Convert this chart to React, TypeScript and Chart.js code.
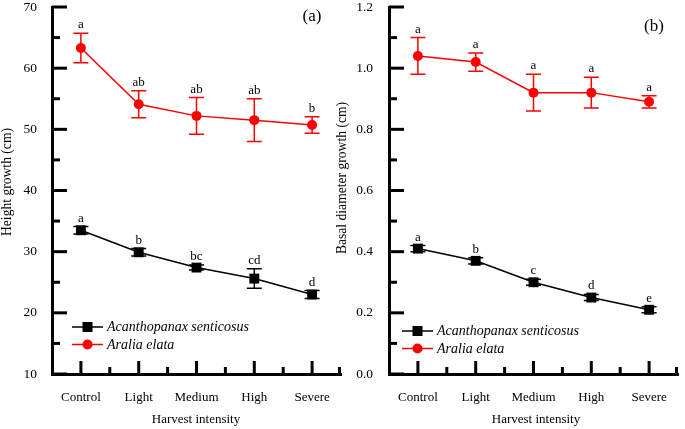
import React, { useEffect, useRef } from 'react';
import { Chart, registerables } from 'chart.js';

Chart.register(...registerables);

// ---------- data ----------
const categories = ['Control', 'Light', 'Medium', 'High', 'Severe'];
const seriesNames = ['Acanthopanax senticosus', 'Aralia elata'];

// Panel (a): height growth (cm)
const heightAcanthopanax = [33.5, 29.9, 27.4, 25.6, 23.0];
const heightAcanthopanaxErr = [0.6, 0.6, 0.4, 1.6, 0.65];
const heightAcanthopanaxLetters = ['a', 'b', 'bc', 'cd', 'd'];
const heightAralia = [63.3, 54.1, 52.2, 51.5, 50.7];
const heightAraliaErr = [2.4, 2.2, 3.0, 3.5, 1.35];
const heightAraliaLetters = ['a', 'ab', 'ab', 'ab', 'b'];
const heightTickValues = [10, 20, 30, 40, 50, 60, 70];
const heightTickLabels = ['10', '20', '30', '40', '50', '60', '70'];

// Panel (b): basal diameter growth (cm)
const diamAcanthopanax = [0.41, 0.37, 0.30, 0.25, 0.21];
const diamAcanthopanaxErr = [0.01, 0.01, 0.01, 0.01, 0.01];
const diamAcanthopanaxLetters = ['a', 'b', 'c', 'd', 'e'];
const diamAralia = [1.04, 1.02, 0.92, 0.92, 0.89];
const diamAraliaErr = [0.06, 0.03, 0.06, 0.05, 0.02];
const diamAraliaLetters = ['a', 'a', 'a', 'a', 'a'];
const diamTickValues = [0.0, 0.2, 0.4, 0.6, 0.8, 1.0, 1.2];
const diamTickLabels = ['0.0', '0.2', '0.4', '0.6', '0.8', '1.0', '1.2'];

const SERIF = "'Liberation Serif', 'Times New Roman', serif";
const BLACK = '#000000';
const RED = '#ff0000';

type PanelProps = {
  left: number;
  width: number;
  yAxisWidth: number;
  padRight: number;
  labelPad: number;
  tickValues: number[];
  tickLabels: string[];
  acan: number[];
  acanErr: number[];
  acanLetters: string[];
  aral: number[];
  aralErr: number[];
  aralLetters: string[];
  yTitle: string;
  yTitleX: number;
  yTitleY: number;
  xTitleX: number;
  tag: string;
  tagX: number;
  tagY: number;
  legendX: number;
  legendY: number;
};

function Panel(p: PanelProps) {
  const ref = useRef<HTMLCanvasElement | null>(null);

  useEffect(() => {
    if (!ref.current) return;
    const minV = p.tickValues[0];
    const maxV = p.tickValues[p.tickValues.length - 1];
    const step = p.tickValues[1] - p.tickValues[0];

    const decor = {
      id: 'decor',
      beforeDatasetsDraw(chart: any) {
        const ctx = chart.ctx;
        const ys = chart.scales.y;
        const errs = [p.acanErr, p.aralErr];
        const vals = [p.acan, p.aral];
        const cols = [BLACK, RED];
        ctx.save();
        for (let i = 0; i < 2; i++) {
          const meta = chart.getDatasetMeta(i);
          ctx.strokeStyle = cols[i];
          ctx.lineWidth = 1.5;
          meta.data.forEach((pt: any, j: number) => {
            const x = pt.x;
            const yt = ys.getPixelForValue(vals[i][j] + errs[i][j]);
            const yb = ys.getPixelForValue(vals[i][j] - errs[i][j]);
            ctx.beginPath();
            ctx.moveTo(x, yt);
            ctx.lineTo(x, yb);
            ctx.moveTo(x - 7.5, yt);
            ctx.lineTo(x + 7.5, yt);
            ctx.moveTo(x - 7.5, yb);
            ctx.lineTo(x + 7.5, yb);
            ctx.stroke();
          });
        }
        ctx.restore();
      },
      afterDatasetsDraw(chart: any) {
        const ctx = chart.ctx;
        const xs = chart.scales.x;
        const ys = chart.scales.y;
        const area = chart.chartArea;
        ctx.save();
        // y-axis inward ticks
        ctx.strokeStyle = BLACK;
        ctx.lineWidth = 3;
        ctx.lineCap = 'butt';
        const ax = area.left;
        for (let v = minV; v <= maxV + step * 1e-6; v += step) {
          const y = ys.getPixelForValue(v);
          ctx.beginPath();
          ctx.moveTo(ax, y);
          ctx.lineTo(ax + 15, y);
          ctx.stroke();
          if (v + step / 2 < maxV) {
            const ym = ys.getPixelForValue(v + step / 2);
            ctx.beginPath();
            ctx.moveTo(ax, ym);
            ctx.lineTo(ax + 8, ym);
            ctx.stroke();
          }
        }
        // x-axis inward ticks
        const by = area.bottom;
        for (let i = 0; i < categories.length; i++) {
          const x = xs.getPixelForValue(i);
          ctx.beginPath();
          ctx.moveTo(x, by);
          ctx.lineTo(x, by - 13);
          ctx.stroke();
          const xm = xs.getPixelForValue(i + 0.5);
          ctx.beginPath();
          ctx.moveTo(Math.min(xm, area.right - 1.5), by);
          ctx.lineTo(Math.min(xm, area.right - 1.5), by - 7);
          ctx.stroke();
        }
        // significance letters
        ctx.fillStyle = BLACK;
        ctx.font = `13px ${SERIF}`;
        ctx.textAlign = 'center';
        ctx.textBaseline = 'alphabetic';
        const sets = [
          { v: p.acan, e: p.acanErr, l: p.acanLetters },
          { v: p.aral, e: p.aralErr, l: p.aralLetters },
        ];
        sets.forEach((s, i) => {
          const meta = chart.getDatasetMeta(i);
          meta.data.forEach((pt: any, j: number) => {
            const yt = ys.getPixelForValue(s.v[j] + s.e[j]);
            ctx.fillText(s.l[j], pt.x, yt - 5);
          });
        });
        // legend
        const rows = [
          { name: seriesNames[0], col: BLACK, shape: 'rect' },
          { name: seriesNames[1], col: RED, shape: 'circle' },
        ];
        rows.forEach((r, i) => {
          const y = p.legendY + i * 17.5;
          ctx.strokeStyle = r.col;
          ctx.fillStyle = r.col;
          ctx.lineWidth = 1.5;
          ctx.beginPath();
          ctx.moveTo(p.legendX, y);
          ctx.lineTo(p.legendX + 31, y);
          ctx.stroke();
          const mx = p.legendX + 15.5;
          if (r.shape === 'rect') {
            ctx.fillRect(mx - 5, y - 5, 10, 10);
          } else {
            ctx.beginPath();
            ctx.arc(mx, y, 5, 0, Math.PI * 2);
            ctx.fill();
          }
          ctx.fillStyle = BLACK;
          ctx.font = `italic 14px ${SERIF}`;
          ctx.textAlign = 'left';
          ctx.textBaseline = 'middle';
          ctx.fillText(r.name, p.legendX + 35, y + 0.5);
        });
        // axis titles
        ctx.fillStyle = BLACK;
        ctx.font = `13px ${SERIF}`;
        ctx.textAlign = 'center';
        ctx.textBaseline = 'middle';
        ctx.fillText('Harvest intensity', p.xTitleX, 420);
        ctx.save();
        ctx.font = `13.6px ${SERIF}`;
        ctx.translate(p.yTitleX, p.yTitleY);
        ctx.rotate(-Math.PI / 2);
        ctx.fillText(p.yTitle, 0, 0);
        ctx.restore();
        // panel tag
        ctx.font = `17px ${SERIF}`;
        ctx.fillText(p.tag, p.tagX, p.tagY);
        ctx.restore();
      },
    };

    const chart = new Chart(ref.current, {
      type: 'line',
      data: {
        labels: categories,
        datasets: [
          {
            label: seriesNames[0],
            data: p.acan,
            borderColor: BLACK,
            backgroundColor: BLACK,
            borderWidth: 1.5,
            pointStyle: 'rect',
            pointRadius: 7,
            pointBorderWidth: 0,
          },
          {
            label: seriesNames[1],
            data: p.aral,
            borderColor: RED,
            backgroundColor: RED,
            borderWidth: 1.5,
            pointStyle: 'circle',
            pointRadius: 5,
            pointBorderWidth: 0,
          },
        ],
      },
      options: {
        animation: false,
        responsive: false,
        maintainAspectRatio: false,
        layout: { padding: { top: 3.5, right: p.padRight, bottom: 0, left: 0 } },
        plugins: { legend: { display: false }, tooltip: { enabled: false } },
        scales: {
          x: {
            type: 'category',
            offset: true,
            grid: { display: false, drawTicks: false },
            border: { display: true, color: BLACK, width: 3 },
            ticks: {
              color: BLACK,
              font: { family: SERIF, size: 13 },
              padding: 16,
              maxRotation: 0,
              autoSkip: false,
            },
            afterFit: (s: any) => {
              s.height = 55;
              s.paddingLeft = 0;
              s.paddingRight = 0;
            },
          },
          y: {
            min: minV,
            max: maxV,
            grid: { display: false, drawTicks: false },
            border: { display: true, color: BLACK, width: 3 },
            afterBuildTicks: (s: any) => {
              s.ticks = p.tickValues.map((v) => ({ value: v }));
            },
            ticks: {
              color: BLACK,
              font: { family: SERIF, size: 13.5 },
              padding: p.labelPad,
              callback: (_v: any, idx: number) => p.tickLabels[idx],
            },
            afterFit: (s: any) => {
              s.width = p.yAxisWidth;
              s.paddingTop = 0;
              s.paddingBottom = 0;
            },
          },
        },
      },
      plugins: [decor],
    } as any);
    return () => chart.destroy();
  }, []);

  return (
    <canvas
      ref={ref}
      width={p.width}
      height={429}
      style={{ position: 'absolute', left: p.left, top: 0, width: p.width, height: 429 }}
    />
  );
}

export default function App() {
  return (
    <div
      style={{
        position: 'fixed',
        left: 0,
        top: 0,
        width: 685,
        height: 429,
        background: '#ffffff',
        overflow: 'hidden',
      }}
    >
      <Panel
        left={0}
        width={348}
        yAxisWidth={52}
        padRight={1.5}
        labelPad={15}
        tickValues={heightTickValues}
        tickLabels={heightTickLabels}
        acan={heightAcanthopanax}
        acanErr={heightAcanthopanaxErr}
        acanLetters={heightAcanthopanaxLetters}
        aral={heightAralia}
        aralErr={heightAraliaErr}
        aralLetters={heightAraliaLetters}
        yTitle="Height growth (cm)"
        yTitleX={7}
        yTitleY={182}
        xTitleX={196}
        tag="(a)"
        tagX={312}
        tagY={17}
        legendX={72}
        legendY={327}
      />
      <Panel
        left={334}
        width={351}
        yAxisWidth={55}
        padRight={2}
        labelPad={16}
        tickValues={diamTickValues}
        tickLabels={diamTickLabels}
        acan={diamAcanthopanax}
        acanErr={diamAcanthopanaxErr}
        acanLetters={diamAcanthopanaxLetters}
        aral={diamAralia}
        aralErr={diamAraliaErr}
        aralLetters={diamAraliaLetters}
        yTitle="Basal diameter growth (cm)"
        yTitleX={8}
        yTitleY={178}
        xTitleX={202}
        tag="(b)"
        tagX={320}
        tagY={27}
        legendX={68}
        legendY={331}
      />
    </div>
  );
}
